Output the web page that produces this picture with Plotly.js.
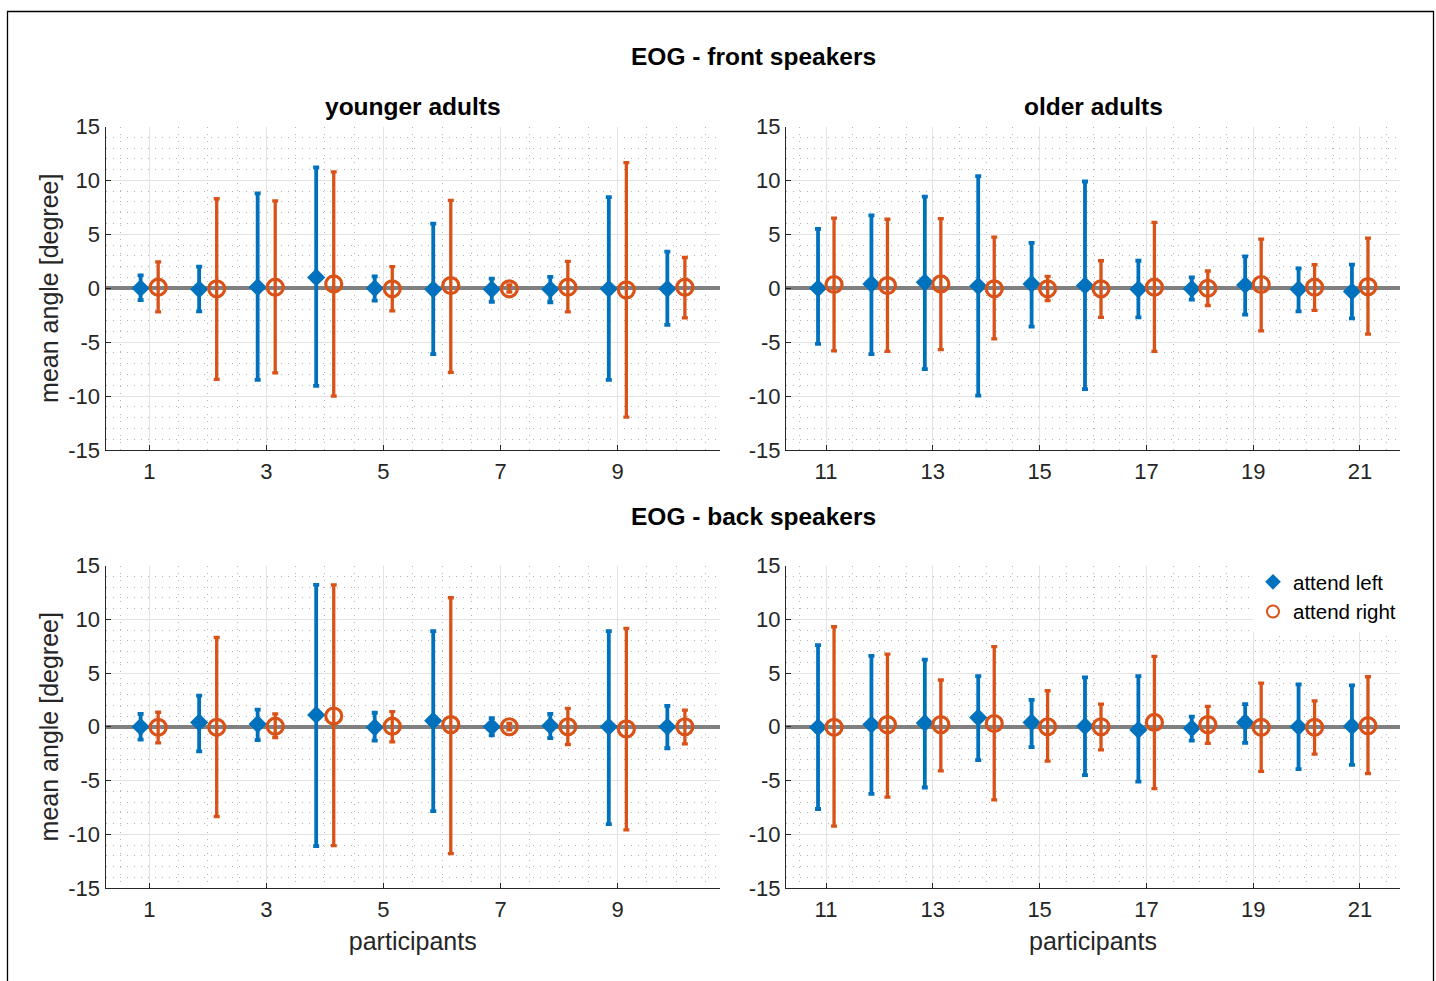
<!DOCTYPE html>
<html>
<head>
<meta charset="utf-8">
<script src="https://cdn.plot.ly/plotly-3.0.1.min.js"></script>
<style>html,body{margin:0;padding:0;background:#fff;}#chart{width:1436px;height:981px;}</style>
</head>
<body>
<div id="chart"></div>
<script>
// ---------- data ----------
const youngParticipants = [1,2,3,4,5,6,7,8,9,10];
const oldParticipants = [11,12,13,14,15,16,17,18,19,20,21];
const youngTickVals = [1,3,5,7,9];
const youngTickText = ['1','3','5','7','9'];
const oldTickVals = [11,13,15,17,19,21];
const oldTickText = ['11','13','15','17','19','21'];
const yTickVals = [-15,-10,-5,0,5,10,15];
const yTickText = ['-15','-10','-5','0','5','10','15'];

// front speakers, younger adults
const frontYoungLeftMean  = [0.0, -0.1, 0.1, 1.0, 0.0, -0.1, -0.1, -0.1, -0.05, -0.05];
const frontYoungLeftUpper = [1.2, 2.0, 8.8, 11.2, 1.1, 6.0, 0.9, 1.05, 8.45, 3.4];
const frontYoungLeftLower = [-1.1, -2.15, -8.5, -9.05, -1.15, -6.1, -1.25, -1.3, -8.5, -3.4];
const frontYoungRightMean  = [0.1, -0.05, 0.1, 0.4, -0.05, 0.25, -0.05, 0.1, -0.15, 0.1];
const frontYoungRightUpper = [2.45, 8.3, 8.1, 10.8, 2.0, 8.15, 0.3, 2.5, 11.65, 2.85];
const frontYoungRightLower = [-2.2, -8.45, -7.85, -10.0, -2.1, -7.8, -0.35, -2.2, -11.95, -2.75];

// front speakers, older adults
const frontOldLeftMean  = [0.0, 0.4, 0.55, 0.2, 0.4, 0.25, -0.1, -0.05, 0.3, -0.1, -0.3];
const frontOldLeftUpper = [5.5, 6.75, 8.5, 10.4, 4.2, 9.9, 2.55, 1.0, 2.95, 1.85, 2.2];
const frontOldLeftLower = [-5.15, -6.1, -7.5, -9.95, -3.55, -9.35, -2.7, -1.05, -2.45, -2.15, -2.8];
const frontOldRightMean  = [0.35, 0.25, 0.4, -0.05, -0.05, -0.05, 0.1, 0.0, 0.35, 0.1, 0.15];
const frontOldRightUpper = [6.5, 6.4, 6.45, 4.75, 1.1, 2.55, 6.1, 1.6, 4.55, 2.2, 4.65];
const frontOldRightLower = [-5.8, -5.85, -5.7, -4.7, -1.15, -2.7, -5.85, -1.6, -3.95, -2.05, -4.25];

// back speakers, younger adults
const backYoungLeftMean  = [0.0, 0.4, 0.25, 1.1, -0.05, 0.55, 0.0, 0.1, 0.0, 0.0];
const backYoungLeftUpper = [1.2, 2.9, 1.6, 13.2, 1.3, 8.9, 0.8, 1.2, 8.9, 1.95];
const backYoungLeftLower = [-1.2, -2.3, -1.25, -11.1, -1.3, -7.85, -0.8, -1.05, -9.05, -2.0];
const backYoungRightMean  = [-0.05, -0.05, 0.05, 1.0, 0.05, 0.2, 0.0, 0.0, -0.2, 0.0];
const backYoungRightUpper = [1.35, 8.3, 1.2, 13.2, 1.4, 12.0, 0.3, 1.7, 9.15, 1.55];
const backYoungRightLower = [-1.5, -8.35, -1.0, -11.05, -1.4, -11.8, -0.3, -1.65, -9.6, -1.6];

// back speakers, older adults
const backOldLeftMean  = [-0.05, 0.2, 0.35, 0.85, 0.4, 0.05, -0.3, -0.15, 0.4, 0.0, 0.05];
const backOldLeftUpper = [7.6, 6.6, 6.25, 4.7, 2.5, 4.6, 4.7, 0.95, 2.1, 3.95, 3.85];
const backOldLeftLower = [-7.65, -6.25, -5.65, -3.1, -1.9, -4.5, -5.1, -1.3, -1.5, -3.95, -3.55];
const backOldRightMean  = [-0.05, 0.2, 0.2, 0.3, 0.0, 0.0, 0.4, 0.2, -0.05, -0.05, 0.1];
const backOldRightUpper = [9.3, 6.75, 4.35, 7.45, 3.35, 2.1, 6.55, 1.9, 4.05, 2.4, 4.65];
const backOldRightLower = [-9.25, -6.55, -4.1, -6.8, -3.2, -2.15, -5.75, -1.55, -4.15, -2.55, -4.35];

// ---------- styling ----------
const BLUE = '#0072BD';
const ORANGE = '#D95319';
const FONT = 'Liberation Sans, Arial, Helvetica, sans-serif';
const OFFSET = 0.15;

function leftTrace(xs, mean, upper, lower, xa, ya, show) {
  return {
    type: 'scatter', mode: 'markers', name: 'attend left', legendgroup: 'left', showlegend: show,
    x: xs.map(v => v - OFFSET), y: mean, xaxis: xa, yaxis: ya,
    marker: {symbol: 'diamond', size: 14, color: BLUE},
    error_y: {type: 'data', symmetric: false,
      array: upper.map((u, i) => u - mean[i]),
      arrayminus: lower.map((l, i) => mean[i] - l),
      color: BLUE, thickness: 3.8, width: 3}
  };
}
function rightTrace(xs, mean, upper, lower, xa, ya, show) {
  return {
    type: 'scatter', mode: 'markers', name: 'attend right', legendgroup: 'right', showlegend: show,
    x: xs.map(v => v + OFFSET), y: mean, xaxis: xa, yaxis: ya,
    marker: {symbol: 'circle-open', size: 16, color: ORANGE, line: {width: 3.2, color: ORANGE}},
    error_y: {type: 'data', symmetric: false,
      array: upper.map((u, i) => u - mean[i]),
      arrayminus: lower.map((l, i) => mean[i] - l),
      color: ORANGE, thickness: 3.3, width: 3}
  };
}

const data = [
  leftTrace(youngParticipants, frontYoungLeftMean, frontYoungLeftUpper, frontYoungLeftLower, 'x', 'y', false),
  rightTrace(youngParticipants, frontYoungRightMean, frontYoungRightUpper, frontYoungRightLower, 'x', 'y', false),
  leftTrace(oldParticipants, frontOldLeftMean, frontOldLeftUpper, frontOldLeftLower, 'x2', 'y2', false),
  rightTrace(oldParticipants, frontOldRightMean, frontOldRightUpper, frontOldRightLower, 'x2', 'y2', false),
  leftTrace(youngParticipants, backYoungLeftMean, backYoungLeftUpper, backYoungLeftLower, 'x3', 'y3', false),
  rightTrace(youngParticipants, backYoungRightMean, backYoungRightUpper, backYoungRightLower, 'x3', 'y3', false),
  leftTrace(oldParticipants, backOldLeftMean, backOldLeftUpper, backOldLeftLower, 'x4', 'y4', true),
  rightTrace(oldParticipants, backOldRightMean, backOldRightUpper, backOldRightLower, 'x4', 'y4', true)
];

const W = 1436, H = 981;
const px = v => v / W;
const py = v => 1 - v / H;

const axisCommon = {
  showline: true, linecolor: '#262626', linewidth: 1, mirror: false,
  ticks: 'inside', ticklen: 5, tickcolor: '#262626', tickwidth: 1,
  showgrid: true, gridcolor: '#e3e3e3', gridwidth: 1,
  tickfont: {family: FONT, size: 22, color: '#262626'},
  fixedrange: true
};
const minorGrid = {showgrid: true, griddash: '1px,6px', gridcolor: '#b4b4b4', gridwidth: 1, ticks: ''};
function xAxis(domain, range, tv, tt, anchor, title) {
  return Object.assign({}, axisCommon, {
    domain: domain, range: range, anchor: anchor,
    tickmode: 'array', tickvals: tv, ticktext: tt, zeroline: false,
    ticklabelstandoff: 2,
    minor: Object.assign({tickmode: 'linear', tick0: 0, dtick: 0.5}, minorGrid),
    title: title ? {text: title, font: {family: FONT, size: 25, color: '#262626'}, standoff: 11} : {text: ''}
  });
}
function yAxis(domain, anchor, title) {
  return Object.assign({}, axisCommon, {
    domain: domain, range: [-15, 15], anchor: anchor,
    tickmode: 'array', tickvals: yTickVals, ticktext: yTickText,
    zeroline: true, zerolinecolor: '#808080', zerolinewidth: 4,
    minor: Object.assign({tickmode: 'linear', tick0: 0, dtick: 1}, minorGrid),
    title: title ? {text: title, font: {family: FONT, size: 25, color: '#262626'}, standoff: 2} : {text: ''}
  });
}

const xL = [px(105.5), px(720)];
const xR = [px(786), px(1400)];
const yT = [py(450), py(126.5)];
const yB = [py(888), py(565.5)];

const titleFont = {family: FONT, size: 24.5, color: '#000000'};

const layout = {
  width: W, height: H,
  margin: {l: 0, r: 0, t: 0, b: 0},
  paper_bgcolor: '#ffffff', plot_bgcolor: '#ffffff',
  showlegend: true,
  legend: {x: px(1401), xanchor: 'right', y: py(562), yanchor: 'top',
    bgcolor: '#ffffff', borderwidth: 0, font: {family: FONT, size: 20.5, color: '#000000'},
    tracegroupgap: 0, itemsizing: 'constant', itemwidth: 30},
  xaxis: xAxis(xL, [0.25, 10.75], youngTickVals, youngTickText, 'y', null),
  yaxis: yAxis(yT, 'x', 'mean angle [degree]'),
  xaxis2: xAxis(xR, [10.25, 21.75], oldTickVals, oldTickText, 'y2', null),
  yaxis2: yAxis(yT, 'x2', null),
  xaxis3: xAxis(xL, [0.25, 10.75], youngTickVals, youngTickText, 'y3', 'participants'),
  yaxis3: yAxis(yB, 'x3', 'mean angle [degree]'),
  xaxis4: xAxis(xR, [10.25, 21.75], oldTickVals, oldTickText, 'y4', 'participants'),
  yaxis4: yAxis(yB, 'x4', null),
  annotations: [
    {text: '<b>EOG - front speakers</b>', xref: 'paper', yref: 'paper', x: px(754), y: py(56.5), xanchor: 'center', yanchor: 'middle', showarrow: false, font: titleFont},
    {text: '<b>younger adults</b>', xref: 'paper', yref: 'paper', x: px(412.5), y: py(107), xanchor: 'center', yanchor: 'middle', showarrow: false, font: titleFont},
    {text: '<b>older adults</b>', xref: 'paper', yref: 'paper', x: px(1093), y: py(107), xanchor: 'center', yanchor: 'middle', showarrow: false, font: titleFont},
    {text: '<b>EOG - back speakers</b>', xref: 'paper', yref: 'paper', x: px(754), y: py(516.5), xanchor: 'center', yanchor: 'middle', showarrow: false, font: titleFont}
  ],
  shapes: [
    {type: 'rect', xref: 'paper', yref: 'paper', x0: px(7.5), x1: px(1433.5), y0: -0.01, y1: py(11.5), line: {color: '#000000', width: 1.3}, fillcolor: 'rgba(0,0,0,0)', layer: 'above'}
  ]
};

Plotly.newPlot('chart', data, layout, {displayModeBar: false, staticPlot: true});
</script>
</body>
</html>
